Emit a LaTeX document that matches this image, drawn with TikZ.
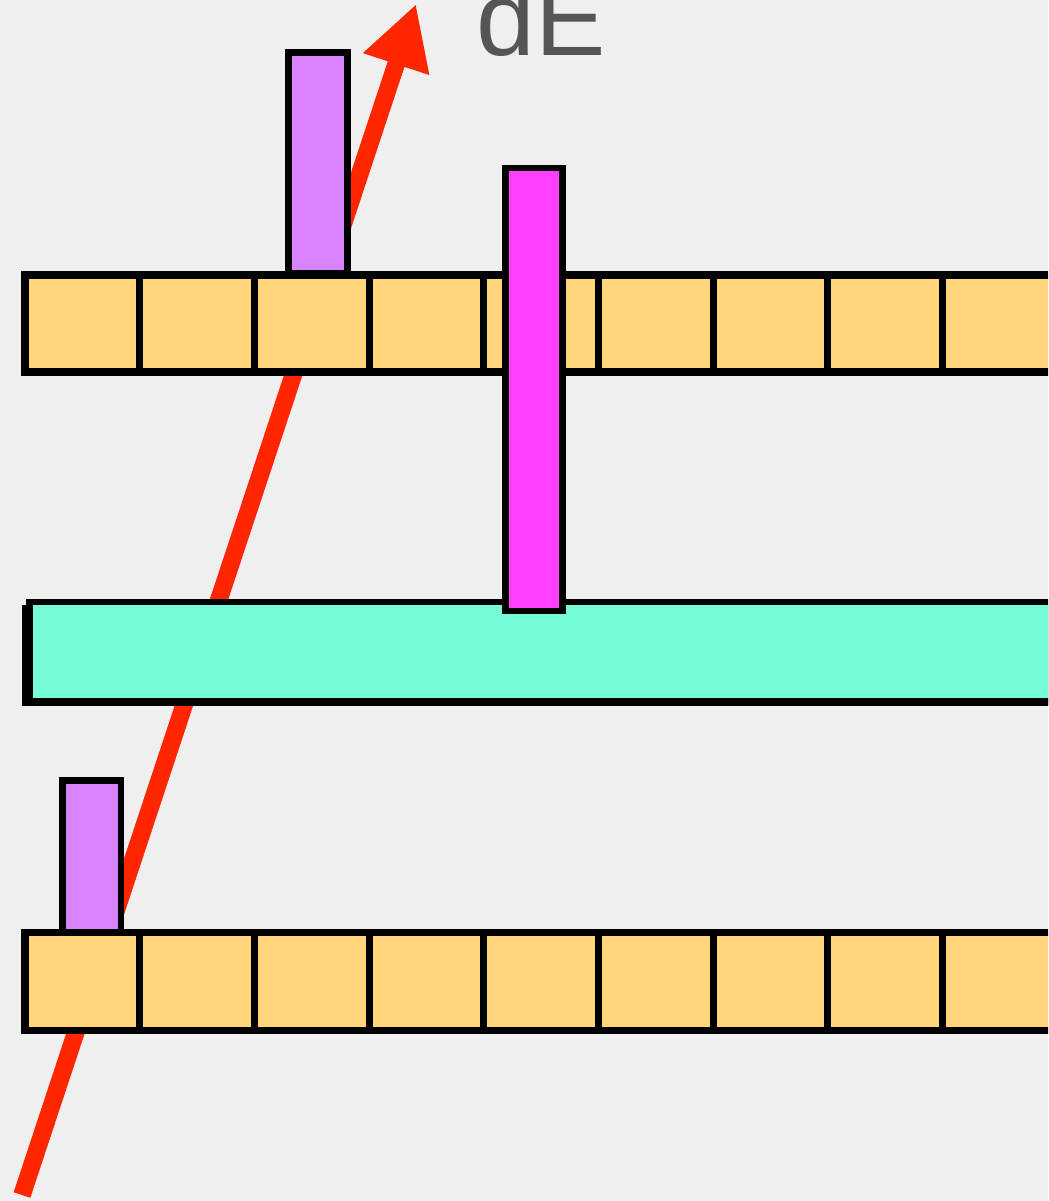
\documentclass[tikz,border=0pt]{standalone}
\usepackage{fontspec}
\setmainfont{Liberation Sans}
\usetikzlibrary{arrows.meta, positioning}
\definecolor{cpaper}{HTML}{EFEFEF}
\definecolor{ccell}{HTML}{FFD47A}
\definecolor{cviolet}{HTML}{D783FF}
\definecolor{cmagenta}{HTML}{FF40FF}
\definecolor{caqua}{HTML}{76FCD8}
\definecolor{cred}{HTML}{FF2600}
\definecolor{ctext}{HTML}{555555}
\tikzset{
  cell/.style={draw=black, fill=ccell, line width=2pt},
  pillar/.style={draw=black, fill=#1, line width=1.8pt},
  pillar/.default=cviolet,
  track/.style={-{Triangle[length=18pt, width=18.5pt]}, draw=cred, line width=5pt},
  label/.style={font=\fontsize{30}{36}\selectfont, text=ctext, inner sep=0pt},
}

\begin{document}
\begin{tikzpicture}[x=0.01cm, y=-0.01cm]
  \useasboundingbox (0,0) rectangle (1048,1201);
  \clip (0,0) rectangle (1048,1201);
  \fill[cpaper] (0,0) rectangle (1048,1201);

  % particle track
  \coordinate (entry) at (22,1195);
  \coordinate (exit) at (416,4);
  \draw[track] (entry) -- (exit);
  \node[label, anchor=base] (dE) at (541,56) {dE};

  % two strip layers
  \foreach \i in {0,...,8} {
    \draw[cell] (25+114.7*\i,275) rectangle (25+114.7*\i+114.7,372);
    \draw[cell] (25+114.7*\i,932.5) rectangle (25+114.7*\i+114.7,1030.5);
  }

  % plane with shadow edge
  \fill[black] (22,605) rectangle (1060,706);
  \draw[pillar=caqua] (29.5,602) rectangle (1060,701.5);

  % hits
  \draw[pillar=cmagenta] (505.5,168) rectangle (562.5,611);
  \draw[pillar] (288.5,52.5) rectangle (347.5,273);
  \draw[pillar] (62.5,780.5) rectangle (121,932);
\end{tikzpicture}
\end{document}
